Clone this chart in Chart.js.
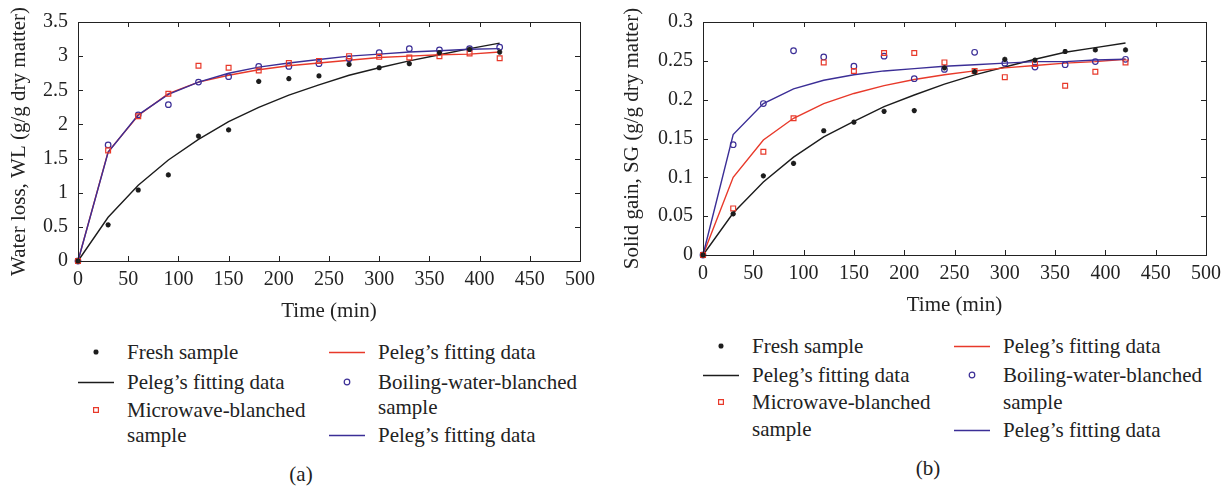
<!DOCTYPE html>
<html lang="en">
<head>
    <meta charset="UTF-8">
    <title>Water loss and solid gain - Peleg fitting</title>
    <script src="https://cdn.jsdelivr.net/npm/chart.js@4"></script>
    <style>
        body { margin: 0; background: #fff; font-family: 'Liberation Serif', 'Times New Roman', serif; color: #222; }
        .root { position: relative; width: 1228px; height: 487px; overflow: hidden; }
        .panel { position: absolute; top: 0; }
        .legend-text { position: absolute; font-size: 21px; white-space: nowrap; }
        .legend-sym { position: absolute; width: 40px; height: 20px; }
        .caption { position: absolute; font-size: 21px; transform: translate(-50%, -50%); }
    </style>
</head>
<body>
    <div class="root" id="root">
        <div class="panel" style="left:0; width:610px; height:330px;">
            <canvas id="chartWL" width="610" height="330"></canvas>
        </div>
        <div class="panel" style="left:615px; width:613px; height:324px;">
            <canvas id="chartSG" width="613" height="324"></canvas>
        </div>
        <div class="caption" style="left:301px; top:474px;">(a)</div>
        <div class="caption" style="left:928px; top:468px;">(b)</div>
    </div>
    <script>
    // sampling times (min)
    const time = [0, 30, 60, 90, 120, 150, 180, 210, 240, 270, 300, 330, 360, 390, 420];

    // (a) water loss, g/g dry matter
    const freshWL    = [0, 0.53, 1.04, 1.26, 1.83, 1.92, 2.63, 2.67, 2.71, 2.88, 2.83, 2.89, 3.05, 3.10, 3.06];
    const freshWLFit = [0, 0.64, 1.11, 1.48, 1.78, 2.04, 2.25, 2.43, 2.58, 2.72, 2.83, 2.93, 3.02, 3.11, 3.19];
    const mwWL       = [0, 1.62, 2.12, 2.45, 2.86, 2.83, 2.79, 2.90, 2.93, 3.00, 2.99, 2.98, 3.00, 3.04, 2.97];
    const mwWLFit    = [0, 1.60, 2.13, 2.45, 2.62, 2.72, 2.80, 2.86, 2.90, 2.94, 2.98, 3.00, 3.02, 3.03, 3.06];
    const bwWL       = [0, 1.70, 2.14, 2.29, 2.62, 2.70, 2.85, 2.85, 2.89, 2.96, 3.05, 3.11, 3.09, 3.11, 3.13];
    const bwWLFit    = [0, 1.59, 2.14, 2.44, 2.62, 2.75, 2.84, 2.90, 2.95, 3.00, 3.03, 3.06, 3.08, 3.10, 3.11];

    // (b) solid gain, g/g dry matter
    const freshSG    = [0, 0.053, 0.102, 0.118, 0.160, 0.171, 0.185, 0.186, 0.241, 0.236, 0.252, 0.251, 0.262, 0.264, 0.264];
    const freshSGFit = [0, 0.054, 0.094, 0.126, 0.152, 0.172, 0.191, 0.206, 0.220, 0.232, 0.242, 0.252, 0.261, 0.267, 0.273];
    const mwSG       = [0, 0.060, 0.133, 0.176, 0.248, 0.237, 0.260, 0.260, 0.248, 0.237, 0.229, 0.246, 0.218, 0.236, 0.248];
    const mwSGFit    = [0, 0.100, 0.148, 0.176, 0.195, 0.208, 0.218, 0.226, 0.232, 0.237, 0.241, 0.244, 0.247, 0.249, 0.252];
    const bwSG       = [0, 0.142, 0.195, 0.263, 0.255, 0.243, 0.256, 0.227, 0.239, 0.261, 0.247, 0.242, 0.245, 0.249, 0.252];
    const bwSGFit    = [0, 0.155, 0.195, 0.214, 0.225, 0.232, 0.237, 0.240, 0.243, 0.245, 0.247, 0.249, 0.249, 0.251, 0.252];

    // axis ticks
    const xTicks = [0, 50, 100, 150, 200, 250, 300, 350, 400, 450, 500];
    const wlTicks = [0, 0.5, 1, 1.5, 2, 2.5, 3, 3.5];
    const sgTicks = [0, 0.05, 0.1, 0.15, 0.2, 0.25, 0.3];

    const BLACK = '#1c1c1c';
    const RED = '#e8392a';
    const BLUE = '#3b2e96';
    const FONT = "'Liberation Serif', 'Times New Roman', serif";

    function pts(ys) {
        return time.map((t, i) => ({ x: t, y: ys[i] }));
    }
    function scatterSet(label, ys, style, color, radius, bw) {
        return { label: label, data: pts(ys), showLine: false, pointStyle: style, pointRadius: radius,
                 pointBorderColor: color, pointBackgroundColor: style === 'star' ? color : 'rgba(255,255,255,0)',
                 pointBorderWidth: bw, borderColor: color, clip: false };
    }
    function fitSet(label, ys, color) {
        return { label: label, data: pts(ys), showLine: true, borderColor: color, borderWidth: 1.4,
                 pointRadius: 0, tension: 0, fill: false, clip: false };
    }

    // box with inward ticks, drawn from the scales
    const boxPlugin = {
        id: 'box',
        afterDatasetsDraw(chart) {
            const ctx = chart.ctx, a = chart.chartArea;
            const xs = chart.scales.x, ys = chart.scales.y;
            ctx.save();
            ctx.strokeStyle = '#222';
            ctx.lineWidth = 1;
            ctx.strokeRect(a.left + 0.5, a.top + 0.5, a.right - a.left, a.bottom - a.top);
            ctx.beginPath();
            xs.ticks.forEach(t => {
                const px = Math.round(xs.getPixelForValue(t.value)) + 0.5;
                ctx.moveTo(px, a.bottom); ctx.lineTo(px, a.bottom - 5);
                ctx.moveTo(px, a.top); ctx.lineTo(px, a.top + 5);
            });
            ys.ticks.forEach(t => {
                const py = Math.round(ys.getPixelForValue(t.value)) + 0.5;
                ctx.moveTo(a.left, py); ctx.lineTo(a.left + 5, py);
                ctx.moveTo(a.right, py); ctx.lineTo(a.right - 5, py);
            });
            ctx.stroke();
            ctx.restore();
        }
    };

    function makeChart(id, sets, yTicks, yTitle, opts) {
        return new Chart(document.getElementById(id).getContext('2d'), {
            type: 'line',
            data: { datasets: sets },
            options: {
                responsive: false,
                animation: false,
                layout: { padding: { top: opts.top, right: opts.right, left: 0, bottom: 0 } },
                plugins: { legend: { display: false }, tooltip: { enabled: false } },
                scales: {
                    x: {
                        type: 'linear', min: xTicks[0], max: xTicks[xTicks.length - 1],
                        afterBuildTicks: s => { s.ticks = xTicks.map(v => ({ value: v })); },
                        afterFit: s => { s.height = 69; },
                        grid: { display: false, drawTicks: false },
                        border: { display: false },
                        ticks: { color: '#222', padding: 7, maxRotation: 0, font: { family: FONT, size: 20 } },
                        title: { display: true, text: 'Time (min)', color: '#222', padding: { top: 0, bottom: 6 },
                                 font: { family: FONT, size: 21 } }
                    },
                    y: {
                        type: 'linear', min: yTicks[0], max: yTicks[yTicks.length - 1],
                        afterBuildTicks: s => { s.ticks = yTicks.map(v => ({ value: v })); },
                        afterFit: s => { s.width = opts.yWidth; },
                        grid: { display: false, drawTicks: false },
                        border: { display: false },
                        ticks: { color: '#222', padding: 10, font: { family: FONT, size: 20 },
                                 callback: v => String(+v.toFixed(2)) },
                        title: { display: true, text: yTitle, color: '#222', padding: { top: opts.titlePad, bottom: 0 },
                                 font: { family: FONT, size: 21 } }
                    }
                }
            },
            plugins: [boxPlugin]
        });
    }

    makeChart('chartWL', [
        scatterSet('Fresh sample', freshWL, 'star', BLACK, 2.6, 1.6),
        scatterSet('Microwave-blanched sample', mwWL, 'rect', RED, 3.4, 1.2),
        scatterSet('Boiling-water-blanched sample', bwWL, 'circle', BLUE, 2.8, 1.2),
        fitSet('Peleg’s fitting data', bwWLFit, BLUE),
        fitSet('Peleg’s fitting data', mwWLFit, RED),
        fitSet('Peleg’s fitting data', freshWLFit, BLACK)
    ], wlTicks, 'Water loss, WL (g/g dry matter)', { top: 20, right: 30, yWidth: 78, titlePad: 7 });

    makeChart('chartSG', [
        scatterSet('Fresh sample', freshSG, 'star', BLACK, 2.6, 1.6),
        scatterSet('Microwave-blanched sample', mwSG, 'rect', RED, 3.4, 1.2),
        scatterSet('Boiling-water-blanched sample', bwSG, 'circle', BLUE, 2.8, 1.2),
        fitSet('Peleg’s fitting data', bwSGFit, BLUE),
        fitSet('Peleg’s fitting data', mwSGFit, RED),
        fitSet('Peleg’s fitting data', freshSGFit, BLACK)
    ], sgTicks, 'Solid gain, SG (g/g dry matter)', { top: 14, right: 22, yWidth: 88, titlePad: 5 });

    // legends below each panel
    const legendLabels = {
        fresh: ['Fresh sample'],
        fit: ['Peleg’s fitting data'],
        mw: ['Microwave-blanched', 'sample'],
        bw: ['Boiling-water-blanched', 'sample']
    };
    function legendEntries(lx, rx, rows, lh) {
        return [
            { sym: 'star', color: BLACK, x: lx, y: rows[0], text: legendLabels.fresh, lh: lh },
            { sym: 'line', color: BLACK, x: lx, y: rows[1], text: legendLabels.fit, lh: lh },
            { sym: 'rect', color: RED, x: lx, y: rows[2], text: legendLabels.mw, lh: lh },
            { sym: 'line', color: RED, x: rx, y: rows[3], text: legendLabels.fit, lh: lh },
            { sym: 'circle', color: BLUE, x: rx, y: rows[4], text: legendLabels.bw, lh: lh },
            { sym: 'line', color: BLUE, x: rx, y: rows[5], text: legendLabels.fit, lh: lh }
        ];
    }
    function drawLegend(entries) {
        const root = document.getElementById('root');
        entries.forEach(e => {
            const c = document.createElement('canvas');
            c.width = 40; c.height = 20;
            c.className = 'legend-sym';
            c.style.left = (e.x - 20) + 'px';
            c.style.top = (e.y - 10) + 'px';
            const ctx = c.getContext('2d');
            ctx.strokeStyle = e.color;
            if (e.sym === 'line') {
                ctx.lineWidth = 1.4;
                ctx.beginPath(); ctx.moveTo(2, 10.5); ctx.lineTo(38, 10.5); ctx.stroke();
            } else {
                const r = e.sym === 'star' ? 2.6 : (e.sym === 'rect' ? 3.4 : 2.8);
                ctx.lineWidth = e.sym === 'star' ? 1.6 : 1.2;
                ctx.fillStyle = e.sym === 'star' ? e.color : '#fff';
                Chart.helpers.drawPoint(ctx, { pointStyle: e.sym, radius: r, rotation: 0, borderWidth: ctx.lineWidth }, 20, 10);
            }
            root.appendChild(c);
            const d = document.createElement('div');
            d.className = 'legend-text';
            d.style.left = (e.x + 31) + 'px';
            d.style.top = (e.y - e.lh / 2) + 'px';
            d.style.lineHeight = e.lh + 'px';
            d.innerHTML = e.text.join('<br>');
            root.appendChild(d);
        });
    }
    drawLegend(legendEntries(96, 347, [352, 382, 410, 352, 382, 435], 25));
    drawLegend(legendEntries(721, 972, [346, 375, 402, 346, 375, 430], 27));
    </script>
</body>
</html>
